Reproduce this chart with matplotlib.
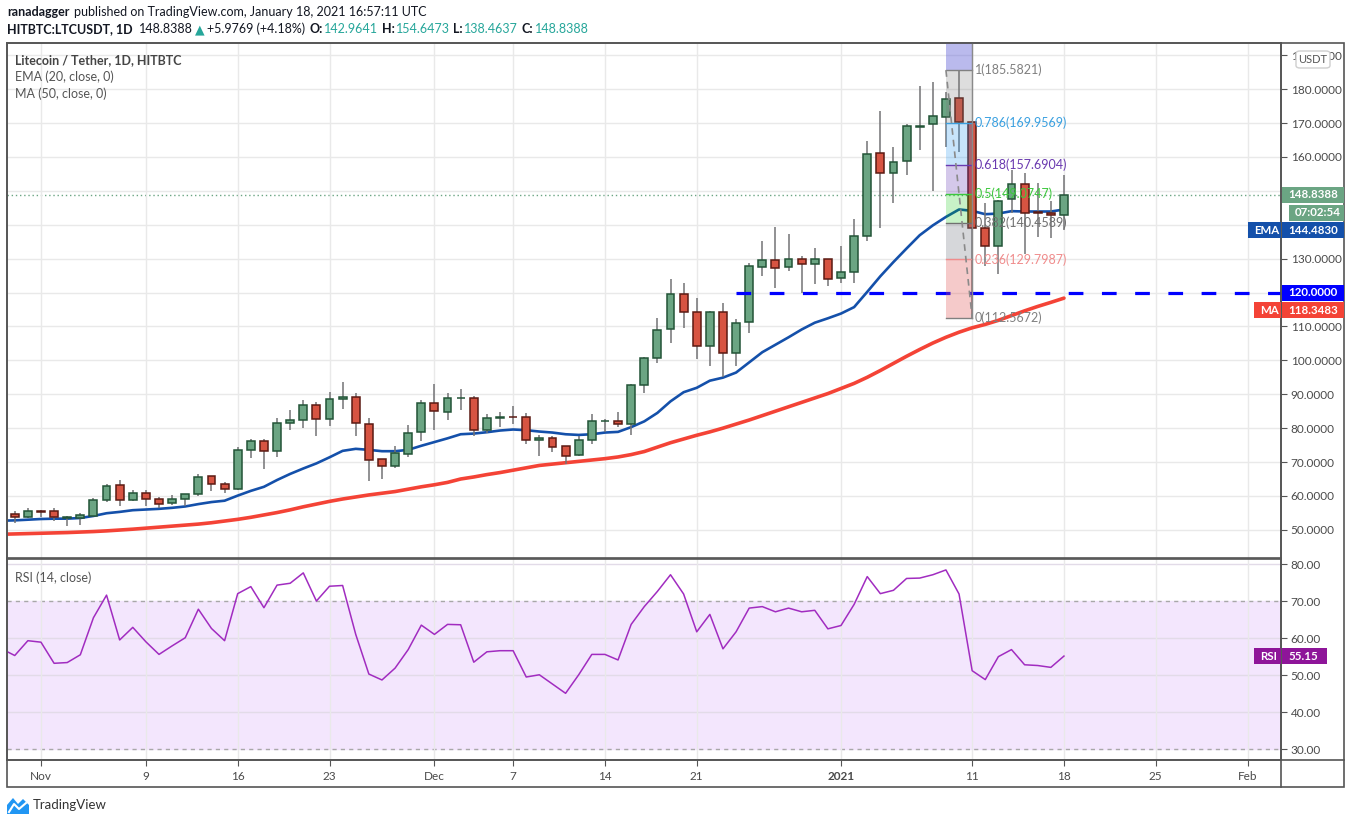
import numpy as np
import pandas as pd
import matplotlib
matplotlib.use("Agg")
import matplotlib.pyplot as plt
import matplotlib.dates as mdates
from matplotlib.patches import Rectangle, Polygon, FancyBboxPatch

W, H = 1351, 824
plt.rcParams['font.family'] = ['Lato', 'DejaVu Sans']

# ---- data (LTC/USDT daily, HitBTC) ----
dates = pd.date_range('2020-10-29', '2021-01-18', freq='D')
opens = [
    55.5, 54.6, 53.8,
    55.6, 55.5, 53.5, 53.5, 54.2, 58.8, 63.2, 58.8, 60.9, 59.2,
    57.9, 59.1, 60.6, 65.9, 63.5, 62.0, 73.6, 76.2, 73.3, 81.5,
    82.4, 86.9, 82.7, 88.6, 89.2, 81.2, 70.9, 68.8, 72.4, 78.9,
    87.5, 84.8, 88.8, 88.9, 79.4, 83.0, 83.4, 83.3, 76.4, 77.1,
    74.7, 72.1, 76.5, 82.0, 82.1, 81.2, 92.8, 100.8, 109.3, 119.6,
    114.3, 104.3, 114.3, 102.2, 111.4, 127.5, 129.5, 127.5, 129.8, 128.4, 129.8,
    124.4, 126.1, 136.8, 161.3, 155.4, 158.7, 168.9, 169.6, 171.9, 177.5,
    170.2, 138.9, 133.6, 147.7, 152.1, 143.9, 143.5, 142.9641,
]
highs = [
    56.0, 55.6, 56.5,
    55.9, 56.5, 54.2, 55.0, 59.5, 63.6, 64.8, 61.8, 61.8, 59.7,
    60.3, 60.7, 66.6, 66.0, 64.2, 74.5, 76.9, 76.9, 83.1, 85.5,
    88.4, 87.8, 90.8, 93.7, 90.5, 83.1, 71.0, 74.7, 81.0, 88.4,
    92.9, 90.5, 91.4, 89.5, 84.2, 84.9, 86.6, 84.4, 78.1, 77.6,
    74.8, 77.8, 84.3, 82.7, 84.9, 93.1, 101.0, 112.6, 124.1, 122.9,
    118.5, 114.5, 117.0, 112.3, 128.7, 135.1, 139.2, 137.2, 130.7, 133.0, 130.0,
    133.6, 141.6, 164.7, 173.5, 162.8, 169.7, 180.9, 182.0, 179.2, 185.5821,
    170.5, 146.4, 147.3, 156.1, 155.4, 152.4, 146.9, 154.6473,
]
lows = [
    54.0, 52.0, 53.5,
    53.9, 52.7, 51.0, 51.3, 54.0, 58.3, 56.9, 58.5, 57.1, 56.4,
    57.4, 57.0, 60.0, 61.4, 60.8, 61.8, 71.1, 67.9, 71.4, 79.6,
    80.0, 77.6, 80.7, 85.7, 77.7, 64.3, 65.0, 68.1, 71.4, 76.2,
    79.5, 82.4, 85.3, 77.6, 78.6, 80.3, 81.2, 75.2, 71.7, 72.9,
    69.4, 71.8, 75.2, 78.8, 80.3, 78.0, 90.4, 99.3, 105.2, 109.6,
    100.4, 98.4, 95.1, 98.4, 108.1, 124.8, 121.3, 126.3, 119.8, 122.5, 121.9,
    122.8, 122.8, 135.1, 139.0, 146.4, 154.8, 161.9, 149.8, 163.0, 161.5,
    112.5672, 127.9, 125.6, 143.5, 131.5, 136.4, 136.1, 138.4637,
]
closes = [
    54.7, 53.8, 55.5,
    55.4, 53.8, 53.9, 54.4, 58.8, 62.9, 58.8, 60.9, 59.2, 57.6,
    59.2, 60.6, 65.6, 63.5, 62.0, 73.6, 76.2, 73.3, 81.5, 82.4,
    86.9, 82.7, 88.6, 89.2, 81.5, 70.6, 68.8, 72.7, 78.6, 87.5,
    85.1, 88.9, 89.0, 79.5, 83.0, 83.3, 83.2, 76.5, 77.1, 74.3,
    71.7, 76.5, 82.1, 82.2, 81.2, 92.8, 100.8, 109.0, 119.6, 114.3,
    104.3, 114.3, 102.2, 111.1, 127.7, 129.5, 127.3, 129.8, 128.4, 129.8, 124.1,
    126.2, 136.8, 161.0, 155.4, 158.4, 169.0, 169.2, 172.1, 177.1, 170.2,
    138.9, 133.6, 147.1, 152.1, 143.6, 143.6, 142.9641, 148.8388,
]
ema20 = [
    52.7, 52.8, 53.0,
    53.2, 53.3, 53.3, 53.5, 54.1, 54.9, 55.3, 55.8, 56.0, 56.2,
    56.5, 56.9, 57.6, 58.2, 58.6, 60.1, 61.5, 62.7, 64.7, 66.5,
    68.1, 69.6, 71.4, 73.3, 73.9, 73.6, 73.2, 73.2, 73.6, 74.8,
    75.9, 77.0, 78.2, 78.4, 78.8, 79.3, 79.6, 79.4, 79.0, 78.7,
    78.2, 78.0, 78.2, 78.7, 78.9, 80.3, 82.0, 84.5, 87.9, 90.6,
    91.9, 94.0, 94.9, 96.4, 99.4, 102.4, 104.6, 106.8, 109.1, 111.1, 112.4,
    113.8, 115.7, 120.2, 124.8, 129.0, 133.0, 136.9, 139.8, 142.3, 144.5,
    144.1, 143.1, 143.3, 144.0, 143.9, 143.9, 143.9, 144.483,
]
ma50 = [
    48.7, 48.8, 48.9,
    49.0, 49.1, 49.2, 49.35, 49.5, 49.7, 49.95, 50.2, 50.5, 50.8,
    51.1, 51.4, 51.7, 52.1, 52.6, 53.1, 53.7, 54.4, 55.1, 55.9,
    56.8, 57.6, 58.4, 59.1, 59.7, 60.3, 60.8, 61.3, 62.0, 62.7,
    63.3, 64.0, 65.0, 65.6, 66.3, 66.9, 67.6, 68.3, 69.0, 69.4,
    69.8, 70.2, 70.6, 71.0, 71.5, 72.2, 73.1, 74.4, 75.7, 76.8,
    77.9, 78.9, 80.0, 81.2, 82.4, 83.7, 85.0, 86.3, 87.6, 88.9, 90.2,
    91.7, 93.2, 95.0, 97.0, 99.1, 101.2, 103.2, 105.1, 106.8, 108.3,
    109.6, 110.6, 111.8, 113.2, 114.6, 115.9, 117.1, 118.3483,
]
rsi14 = [
    57.1, 55.3, 59.3,
    58.9, 53.2, 53.4, 55.5, 65.5, 71.6, 59.5, 62.9, 59.0, 55.6,
    57.9, 60.1, 67.8, 62.6, 59.3, 72.0, 73.9, 68.2, 74.3, 74.8,
    77.6, 70.0, 74.0, 74.2, 61.0, 50.3, 48.7, 51.9, 56.9, 63.5,
    61.0, 63.7, 63.6, 53.5, 56.3, 56.6, 56.6, 49.5, 50.1, 47.6,
    45.1, 50.1, 55.6, 55.6, 54.1, 63.7, 68.5, 72.6, 77.1, 71.9,
    61.7, 66.4, 57.1, 61.7, 68.1, 68.5, 67.1, 68.1, 67.1, 67.5, 62.5,
    63.4, 69.1, 76.6, 72.0, 72.9, 76.1, 76.2, 77.1, 78.4, 71.9,
    51.2, 48.8, 55.0, 56.9, 52.8, 52.6, 52.1, 55.15,
]

support_level = 120.0
support_start = '2020-12-24'

fib_start, fib_end = '2021-01-09', '2021-01-11'
fib_ratios = ['0', '0.236', '0.382', '0.5', '0.618', '0.786', '1', '1.618']
fib_prices = [112.5672, 129.7987, 140.4589, 149.0747, 157.6904, 169.9569, 185.5821, 230.7]

tick_dates = ['2020-11-01', '2020-11-09', '2020-11-16', '2020-11-23', '2020-12-01',
              '2020-12-07', '2020-12-14', '2020-12-21', '2021-01-01', '2021-01-11',
              '2021-01-18', '2021-01-25', '2021-02-01']
tick_labels = ['Nov', '9', '16', '23', 'Dec', '7', '14', '21', '2021', '11', '18', '25', 'Feb']
price_ticks = list(range(50, 200, 10))
hidden_price_ticks = [120, 140, 150]   # covered by the price tags
rsi_ticks = [30, 40, 50, 60, 70, 80]

# ---- colours ----
UP, DOWN = '#6ba583', '#d75442'
UP_EDGE, DOWN_EDGE = '#225437', '#5b1a13'
WICK = '#737375'
EMA_C, MA_C = '#1450aa', '#f44336'
RSI_C = '#a12cc0'
GRID = '#e9e9e9'
FRAME = '#555555'
TXT = '#4a4a4a'


def fx(px):
    return px / W


def fy(py):
    return 1 - py / H


def rect(x0, y0, x1, y1):
    return [fx(x0), fy(y1), (x1 - x0) / W, (y1 - y0) / H]


fig = plt.figure(figsize=(W / 100, H / 100), dpi=100)
fig.patch.set_facecolor('white')

ax = fig.add_axes(rect(7, 43, 1281, 558))
rax = fig.add_axes(rect(7, 559, 1281, 760), sharex=ax)

x = mdates.date2num(dates)
o, h, l, c = map(np.array, (opens, highs, lows, closes))

xmin = mdates.date2num(pd.Timestamp('2020-10-29 09:50'))
xmax = mdates.date2num(pd.Timestamp('2021-02-03 13:10'))
ax.set_xlim(xmin, xmax)
ax.set_ylim(41.7, 193.6)
rax.set_ylim(27.1, 81.35)

xt = mdates.date2num(pd.to_datetime(tick_dates))
for a in (ax, rax):
    a.set_xticks(xt)
    a.grid(axis='x', color=GRID, lw=1, zorder=0)
    for s in a.spines.values():
        s.set_color(FRAME)
        s.set_linewidth(1.2)
ax.grid(axis='y', color=GRID, lw=1, zorder=0)
ax.tick_params(axis='x', length=0, labelbottom=False)
rax.set_xticklabels(tick_labels)
rax.tick_params(axis='x', length=4, color=FRAME, labelcolor=TXT, labelsize=8.5, pad=4)
for lab in rax.get_xticklabels():
    if lab.get_text() == '2021':
        lab.set_fontweight('bold')

ax.yaxis.tick_right()
ax.set_yticks(price_ticks)
ax.set_yticklabels(['' if v in hidden_price_ticks else '{:.4f}'.format(v) for v in price_ticks])
rax.yaxis.tick_right()
rax.set_yticks(rsi_ticks)
rax.set_yticklabels(['{:.2f}'.format(v) for v in rsi_ticks])
for a in (ax, rax):
    a.tick_params(axis='y', length=4, color=FRAME, labelcolor=TXT, labelsize=8.5, pad=3)

# ---- price pane ----
ax.plot(x, ma50, color=MA_C, lw=2.6, zorder=2, solid_capstyle='round')
ax.plot(x, ema20, color=EMA_C, lw=1.9, zorder=2, solid_capstyle='round')

up = c >= o
ax.vlines(x, l, h, color=WICK, lw=1.1, zorder=3)
body_h = np.maximum(np.abs(c - o), 0.15)
ax.bar(x[up], body_h[up], bottom=np.minimum(o, c)[up], width=0.6,
       color=UP, edgecolor=UP_EDGE, linewidth=1.1, zorder=4)
ax.bar(x[~up], body_h[~up], bottom=np.minimum(o, c)[~up], width=0.6,
       color=DOWN, edgecolor=DOWN_EDGE, linewidth=1.1, zorder=4)

# support line at 120
xs0 = mdates.date2num(pd.Timestamp(support_start))
ax.plot([xs0, xmax], [support_level, support_level], color='#0000ff', lw=2.3,
        dashes=(4.6, 5.8), zorder=5)

# last price dotted line
ax.axhline(closes[-1], color=UP, lw=1, ls=(0, (1, 2)), zorder=1)

# fibonacci retracement
f0 = mdates.date2num(pd.Timestamp(fib_start))
f1 = mdates.date2num(pd.Timestamp(fib_end))
band_cols = [('#e05050', 0.30), ('#787b86', 0.30), ('#00c800', 0.22), ('#673ab7', 0.28),
             ('#2196f3', 0.25), ('#787878', 0.25), ('#5c5cd6', 0.42)]
for i, (col, al) in enumerate(band_cols):
    ax.add_patch(Rectangle((f0, fib_prices[i]), f1 - f0, fib_prices[i + 1] - fib_prices[i],
                           facecolor=col, alpha=al, lw=0, zorder=6))
lvl_cols = ['#808080', '#f08c8c', '#707070', '#3cc83c', '#6a3ab0', '#3aa0e0', '#808080']
for i, col in enumerate(lvl_cols):
    ax.plot([f0, f1], [fib_prices[i], fib_prices[i]], color=col, lw=1, zorder=7)
    ax.annotate('{}({:.4f})'.format(fib_ratios[i], fib_prices[i]), (f1, fib_prices[i]),
                xytext=(2, 0), textcoords='offset points', va='center', ha='left',
                fontsize=9, color=col, zorder=8)
ax.plot([f1, f1], [fib_prices[0], fib_prices[-1]], color='#8a8a8a', lw=1, zorder=7)
ax.plot([f0, f1], [fib_prices[6], fib_prices[0]], color='#8a8a8a', lw=1.2,
        ls=(0, (4, 3)), zorder=7)

# ---- rsi pane ----
rax.axhspan(30, 70, color='#f3e6fd', zorder=0.5)
for v in (40, 50, 60, 80):
    rax.axhline(v, color='#e2dbe8', lw=1, zorder=0.6)
for v in (30, 70):
    rax.axhline(v, color='#a8a8a8', lw=1, ls=(0, (3, 3)), zorder=0.7)
rax.plot(x, rsi14, color=RSI_C, lw=1.1, zorder=3)

# ---- outer frame ----
fig.add_artist(Rectangle((fx(7), fy(787)), (1344 - 7) / W, (787 - 43) / H, transform=fig.transFigure,
                         fill=False, edgecolor=FRAME, lw=1.2))
fig.add_artist(plt.Line2D([fx(1281), fx(1281)], [fy(43), fy(787)], transform=fig.transFigure,
                          color=FRAME, lw=1.2))
fig.add_artist(plt.Line2D([fx(7), fx(1344)], [fy(760), fy(760)], transform=fig.transFigure,
                          color=FRAME, lw=1.2))


# ---- price tags on the right scale ----
def ypix(a, value):
    return H - a.transData.transform((0, value))[1]


def box(x0, x1, yc, text, color, hh=16, size=8.3):
    fig.add_artist(Rectangle((fx(x0), fy(yc + hh / 2)), (x1 - x0) / W, hh / H,
                             transform=fig.transFigure, facecolor=color, edgecolor='none', zorder=10))
    fig.text(fx(x0 + 6), fy(yc), text, color='white', fontsize=size, fontweight='bold',
             va='center', ha='left', zorder=11)


yc = ypix(ax, closes[-1])
box(1282, 1344, yc, '{:.4f}'.format(closes[-1]), UP)
box(1289, 1344, yc + 18, '07:02:54', UP)
ye = ypix(ax, ema20[-1]) + 20.5
box(1248, 1281, ye, 'EMA', EMA_C)
box(1282, 1344, ye, '{:.4f}'.format(ema20[-1]), EMA_C)
box(1282, 1344, ypix(ax, support_level), '{:.4f}'.format(support_level), '#0000ff')
ym = ypix(ax, ma50[-1]) + 12
box(1254, 1281, ym, 'MA', MA_C)
box(1282, 1344, ym, '{:.4f}'.format(ma50[-1]), MA_C)
yr = ypix(rax, rsi14[-1])
box(1254, 1281, yr, 'RSI', '#8e1599')
box(1282, 1327, yr, '{:.2f}'.format(rsi14[-1]), '#8e1599')

fig.add_artist(FancyBboxPatch((fx(1296), fy(68)), 34 / W, 17 / H, transform=fig.transFigure,
                              boxstyle='round,pad=0,rounding_size=0.003', facecolor='white',
                              edgecolor='#cfcfcf', lw=1, zorder=10))
fig.text(fx(1313), fy(59.5), 'USDT', ha='center', va='center', fontsize=8, color='#555555', zorder=11)

# ---- legends ----
fig.text(fx(15), fy(60), 'Litecoin / Tether, 1D, HITBTC', fontsize=9, color='#454545',
         fontweight='bold', va='center')
fig.text(fx(15), fy(77), 'EMA (20, close, 0)', fontsize=9, color='#555555', va='center')
fig.text(fx(15), fy(94), 'MA (50, close, 0)', fontsize=9, color='#555555', va='center')
fig.text(fx(15), fy(578), 'RSI (14, close)', fontsize=9, color='#555555', va='center')

# ---- header ----
renderer = fig.canvas.get_renderer()


def runs(x0, y0, pieces, size=9.0):
    xp = x0
    for txt, col, wt, gap in pieces:
        xp += gap
        t = fig.text(fx(xp), fy(y0), txt, color=col, fontsize=size, fontweight=wt, va='center', ha='left')
        xp += t.get_window_extent(renderer=renderer).width


DARK = '#131722'
TEAL = '#26a69a'
runs(7, 12, [('ranadagger', DARK, 'bold', 0),
             ('published on TradingView.com, January 18, 2021 16:57:11 UTC', DARK, 'normal', 4)])
runs(7, 29, [('HITBTC:LTCUSDT, 1D', DARK, 'bold', 0),
             ('148.8388', DARK, 'normal', 6),
             ('\u25b2', TEAL, 'normal', 2),
             ('+5.9769 (+4.18%)', DARK, 'normal', 3),
             ('O:', DARK, 'bold', 4), ('142.9641', TEAL, 'normal', 1),
             ('H:', DARK, 'bold', 4), ('154.6473', TEAL, 'normal', 1),
             ('L:', DARK, 'bold', 4), ('138.4637', TEAL, 'normal', 1),
             ('C:', DARK, 'bold', 4), ('148.8388', TEAL, 'normal', 1)])

# ---- TradingView logo ----
fig.add_artist(Polygon([(fx(7), fy(814)), (fx(7), fy(805)), (fx(13), fy(798)), (fx(18), fy(804)),
                        (fx(23), fy(799)), (fx(29), fy(805)), (fx(29), fy(814))],
                       closed=True, transform=fig.transFigure, facecolor='#2196f3', edgecolor='none'))
fig.add_artist(plt.Line2D([fx(9), fx(14), fx(19), fx(26)], [fy(812), fy(804), fy(809), fy(803)],
                          transform=fig.transFigure, color='white', lw=1.5))
fig.text(fx(33), fy(805), 'TradingView', fontsize=9.5, color='#333333', va='center', ha='left')

fig.savefig('out.png', dpi=100)
